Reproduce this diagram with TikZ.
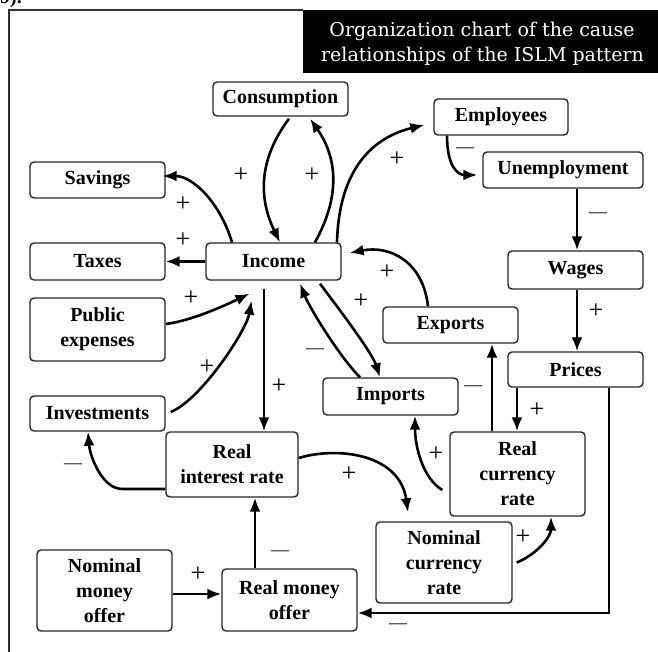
\documentclass[tikz,border=0pt]{standalone}
\usepackage{fontspec}
\setmainfont{Liberation Serif}
\newfontfamily\titlefont{DejaVu Serif}
\usetikzlibrary{arrows.meta,calc}
\begin{document}
\begin{tikzpicture}[x=1pt,y=-1pt,
  box/.style={draw=black!85, line width=1.4pt, rounded corners=4pt, minimum width=135pt, inner sep=0pt, align=center, font=\fontsize{20}{25}\selectfont\bfseries, fill=white},
  conn/.style={line width=2.6pt, -{Latex[length=14pt,width=11pt]}},
  pl/.style={font=\fontsize{26}{26}\selectfont, inner sep=0pt},
  mi/.style={font=\fontsize{18}{18}\selectfont, inner sep=0pt},
  ttl/.style={font=\titlefont\fontsize{19}{25}\selectfont, text=white, inner sep=0pt, anchor=base},
]
\useasboundingbox (0,0) rectangle (658,652);
% frame and title
\draw[line width=1.5pt, black!80] (9,652) -- (9,10) -- (303,10);
\fill[black] (303,10) rectangle (658,73);
\node[ttl] (title1) at (482,37) {Organization chart of the cause};
\node[ttl] (title2) at (482.5,62) {relationships of the ISLM pattern};
\node[anchor=base west, inner sep=0pt, font=\fontsize{20}{20}\selectfont\bfseries] (frag) at (0,4) {9).};

% boxes
\node[box, minimum height=34pt] (cons) at (280.5,99) {Consumption};
\node[box, minimum height=36pt] (sav) at (97.5,180) {Savings};
\node[box, minimum width=134pt, minimum height=36pt] (emp) at (501,117) {Employees};
\node[box, minimum width=160pt, minimum height=36pt] (une) at (563,170) {Unemployment};
\node[box, minimum height=37pt] (tax) at (97.5,261.5) {Taxes};
\node[box, minimum height=37pt] (inc) at (273.5,261.5) {Income};
\node[box, minimum height=63pt] (pub) at (97.5,329.5) {Public\\expenses};
\node[box, minimum height=35pt] (inv) at (97.5,413.5) {Investments};
\node[box, minimum width=132pt, minimum height=65pt] (rir) at (232,464.5) {Real\\interest rate};
\node[box, minimum height=81pt] (nmo) at (104.5,590.5) {Nominal\\money\\offer};
\node[box, minimum height=62pt] (rmo) at (289.5,600) {Real money\\offer};
\node[box, minimum width=136pt, minimum height=81pt] (ncr) at (444,562.5) {Nominal\\currency\\rate};
\node[box, minimum height=84pt] (rcr) at (517.5,474) {Real\\currency\\rate};
\node[box, minimum height=37pt] (imp) at (390.5,396.5) {Imports};
\node[box, minimum height=36pt] (exp) at (450.5,325) {Exports};
\node[box, minimum height=38pt] (wag) at (575.5,270) {Wages};
\node[box, minimum height=35pt] (pri) at (575.5,369.5) {Prices};

% connectors
\draw[conn] ($(cons.south)+(8.5,2)$) .. controls +(-30,40) and +(-22,-45) .. ($(inc.north)+(6.5,0)$);
\draw[conn] ($(inc.north)+(41.5,0)$) .. controls +(25,-45) and +(28,40) .. ($(cons.south)+(29.5,2)$);
\draw[conn] ($(inc.north)+(63.5,0)$) .. controls +(2,-75) and +(-50,12) .. ($(emp.west)+(-9,8)$);
\draw[conn] ($(inc.north)+(-41.5,0)$) .. controls +(-12,-40) and +(30,0) .. ($(sav.east)+(-3,-4)$);
\draw[conn] (inc.west) -- (tax.east);
\draw[conn] ($(pub.east)+(0,-5.5)$) .. controls +(25,-3) and +(-25,12) .. ($(inc.south)+(-24,13)$);
\draw[conn] ($(inv.east)+(5,-1.5)$) .. controls +(30,-12) and +(-5,30) .. ($(inc.south)+(-22,20)$);
\draw[conn] ($(inc.south)+(-9.5,8)$) -- ($(rir.north)+(32,0)$);
\draw[conn] ($(rir.west)+(0,24.5)$) -- ++(-43,0) .. controls +(-20,0) and +(2,25) .. ($(inv.south)+(-9.5,0)$);
\draw[conn] ($(rmo.north)+(-34.5,0)$) -- ($(rir.south)+(23,0)$);
\draw[conn] ($(nmo.east)+(0,3.5)$) -- ($(rmo.west)+(0,-6)$);
\draw[conn] ($(pri.south)+(33.5,0)$) |- ($(rmo.east)+(0,13)$);
\draw[conn] ($(pri.south)+(-58.5,0)$) -- ($(rcr.north)+(-0.5,0)$);
\draw[conn] ($(rcr.north)+(-25.5,0)$) -- ($(exp.south)+(41.5,0)$);
\draw[conn] ($(rcr.west)+(-7,16)$) .. controls +(-20,-12) and +(0,30) .. ($(imp.south)+(24.5,0)$);
\draw[conn] ($(ncr.east)+(4,0)$) .. controls +(20,-8) and +(0,20) .. ($(rcr.south)+(33.5,0)$);
\draw[conn] ($(rir.east)+(0,-6.5)$) .. controls +(40,-12) and +(-8,-58) .. ($(ncr.north)+(-36,-9)$);
\draw[conn] ($(exp.north)+(-22.5,0)$) .. controls +(-5,-45) and +(40,-8) .. ($(inc.east)+(8,-8.5)$);
\draw[conn] ($(inc.south)+(46.5,3)$) .. controls +(15,20) and +(-8,-25) .. ($(imp.north)+(-10.5,0)$);
\draw[conn] ($(imp.north)+(-30.5,0)$) .. controls +(-20,-20) and +(10,25) .. ($(inc.south)+(26.5,3)$);
\draw[conn] ($(emp.south)+(-54,0)$) .. controls +(0,30) and +(-20,0) .. ($(une.west)+(-5,5)$);
\draw[conn] ($(une.south)+(14,0)$) -- ($(wag.north)+(1.5,0)$);
\draw[conn] ($(wag.south)+(1.5,0)$) -- ($(pri.north)+(1.5,0)$);

% signs
\node[pl] (l1) at (241,175) {+};
\node[pl] (l2) at (312,175) {+};
\node[pl] (l3) at (397,159) {+};
\node[pl] (l4) at (183,204) {+};
\node[pl] (l5) at (183,240) {+};
\node[pl] (l6) at (191,298) {+};
\node[pl] (l7) at (207,367) {+};
\node[pl] (l8) at (279,386) {+};
\node[mi] (l9) at (73,466) {—};
\node[mi] (l10) at (280,553) {—};
\node[pl] (l11) at (198,574) {+};
\node[mi] (l12) at (398,626) {—};
\node[pl] (l13) at (537,410) {+};
\node[mi] (l14) at (473,388) {—};
\node[pl] (l15) at (436,454) {+};
\node[pl] (l16) at (523,537) {+};
\node[pl] (l17) at (349,474) {+};
\node[pl] (l18) at (387,272) {+};
\node[pl] (l19) at (361,301) {+};
\node[mi] (l20) at (315,351) {—};
\node[mi] (l21) at (465,150) {—};
\node[mi] (l22) at (598,215) {—};
\node[pl] (l23) at (596,311) {+};
\end{tikzpicture}
\end{document}
